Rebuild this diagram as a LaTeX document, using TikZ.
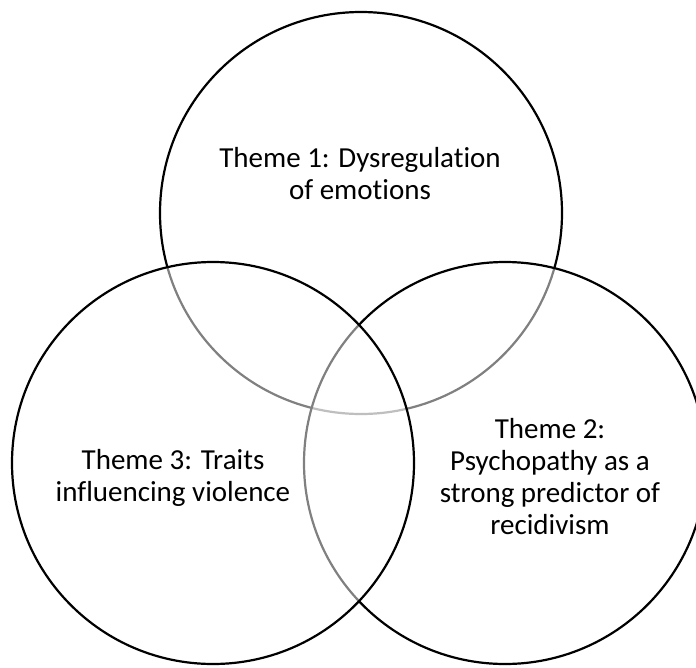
\documentclass[tikz,border=0pt]{standalone}
\usepackage{fontspec}
\setmainfont{Carlito}[RawFeature=-liga]
\usetikzlibrary{positioning}

\begin{document}
\begin{tikzpicture}[x=1pt,y=-1pt,
      c/.style={circle,draw,line width=2.2pt,fill=white,fill opacity=.5,minimum size=402pt,inner sep=0pt},
      t/.style={align=center,anchor=base,font=\fontsize{29}{32}\selectfont}]
      \useasboundingbox (0,0) rectangle (696,667);
      % the later circles lie over the earlier ones and grey their lines
      \node[c] (emo) at (361,213) {};
      \node[c] (psy) at (505,463) {};
      \node[c] (trait) at (213,463) {};
      % base sits on the last line of each label
      \node[t] (emolbl) at (360,199) {Theme 1: Dysregulation\\of emotions};
      \node[t] (psylbl) at (550,534) {Theme 2:\\Psychopathy as a\\strong predictor of\\recidivism};
      \node[t] (traitlbl) at (173,501) {Theme 3: Traits\\influencing violence};
    \end{tikzpicture}
\end{document}
